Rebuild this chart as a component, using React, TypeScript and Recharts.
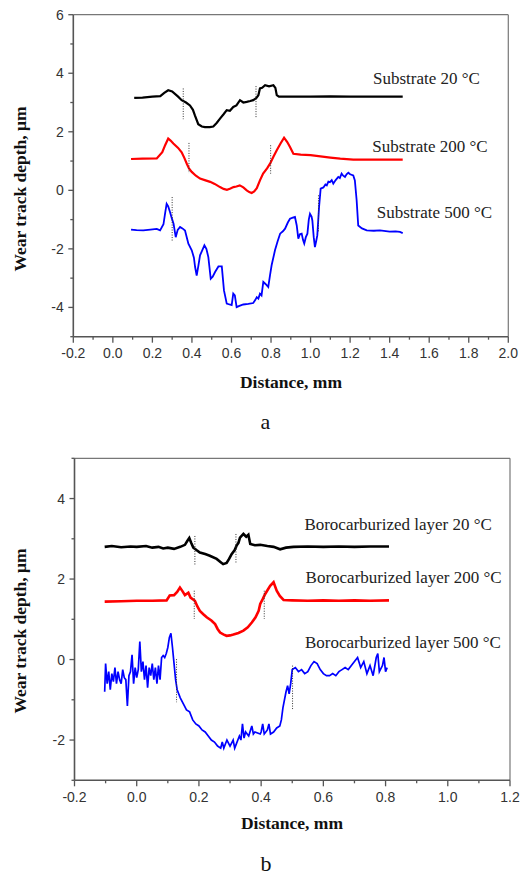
import { LineChart, Line, XAxis, YAxis, ReferenceLine, ReferenceDot } from "recharts";

// ---- panel a: substrate ----
const subXTicks = [-0.2, -0.1, 0, 0.1, 0.2, 0.3, 0.4, 0.5, 0.6, 0.7, 0.8, 0.9, 1.0, 1.1, 1.2, 1.3, 1.4, 1.5, 1.6, 1.7, 1.8, 1.9, 2.0];
const subYTicks = [-5, -4, -3, -2, -1, 0, 1, 2, 3, 4, 5, 6];

const sub20: [number, number][] = [
  [0.108, 3.16], [0.15, 3.17], [0.2, 3.2], [0.24, 3.22], [0.26, 3.33], [0.28, 3.42], [0.3, 3.38], [0.33, 3.2],
  [0.348, 3.08], [0.37, 3.0], [0.39, 2.9], [0.405, 2.75], [0.415, 2.56], [0.432, 2.26], [0.45, 2.18], [0.466, 2.16],
  [0.49, 2.16], [0.508, 2.18], [0.525, 2.3], [0.542, 2.45], [0.56, 2.6], [0.576, 2.74], [0.592, 2.72], [0.609, 2.85],
  [0.625, 2.9], [0.643, 3.08], [0.66, 3.0], [0.677, 3.02], [0.695, 3.05], [0.71, 3.08], [0.725, 3.15], [0.736, 3.25],
  [0.744, 3.48], [0.755, 3.5], [0.77, 3.59], [0.79, 3.55], [0.812, 3.59], [0.822, 3.5], [0.829, 3.25], [0.84, 3.2],
  [0.9, 3.2], [1.0, 3.2], [1.1, 3.21], [1.2, 3.2], [1.3, 3.2], [1.4, 3.2], [1.466, 3.2],
];

const sub200: [number, number][] = [
  [0.092, 1.07], [0.15, 1.08], [0.222, 1.09], [0.25, 1.3], [0.265, 1.55], [0.28, 1.77], [0.292, 1.7], [0.306, 1.6],
  [0.33, 1.45], [0.348, 1.3], [0.362, 1.1], [0.374, 0.91], [0.385, 0.75], [0.399, 0.63], [0.42, 0.5], [0.441, 0.4],
  [0.465, 0.35], [0.492, 0.29], [0.515, 0.22], [0.542, 0.11], [0.56, 0.05], [0.577, 0.02], [0.595, 0.06], [0.61, 0.11],
  [0.625, 0.13], [0.642, 0.17], [0.66, 0.1], [0.677, 0.0], [0.69, -0.06], [0.702, -0.09], [0.715, -0.04], [0.728, 0.07],
  [0.744, 0.34], [0.76, 0.57], [0.78, 0.75], [0.795, 0.91], [0.812, 1.15], [0.829, 1.37], [0.848, 1.6], [0.866, 1.8],
  [0.882, 1.65], [0.896, 1.48], [0.913, 1.25], [0.95, 1.22], [1.0, 1.2], [1.05, 1.16], [1.1, 1.12], [1.15, 1.08],
  [1.216, 1.05], [1.3, 1.05], [1.4, 1.05], [1.466, 1.05],
];

const sub500: [number, number][] = [
  [0.092, -1.34], [0.12, -1.36], [0.154, -1.37], [0.19, -1.34], [0.222, -1.32], [0.239, -1.37], [0.256, -1.16], [0.265, -0.75],
  [0.272, -0.46], [0.28, -0.55], [0.289, -0.74], [0.298, -0.95], [0.307, -1.14], [0.318, -1.6], [0.328, -1.35], [0.34, -1.25],
  [0.352, -1.3], [0.365, -1.37], [0.382, -1.82], [0.399, -2.05], [0.41, -2.3], [0.416, -2.62], [0.424, -2.91], [0.432, -2.6],
  [0.441, -2.22], [0.452, -2.05], [0.463, -1.88], [0.473, -2.0], [0.483, -2.28], [0.495, -3.02], [0.505, -2.95], [0.517, -2.79],
  [0.534, -2.6], [0.551, -2.6], [0.562, -3.42], [0.576, -3.87], [0.59, -3.9], [0.601, -3.92], [0.609, -3.53], [0.617, -3.59],
  [0.626, -3.99], [0.64, -3.95], [0.66, -3.9], [0.685, -3.88], [0.71, -3.85], [0.72, -3.75], [0.728, -3.65], [0.736, -3.7],
  [0.744, -3.53], [0.752, -3.59], [0.761, -3.13], [0.772, -3.2], [0.786, -3.3], [0.795, -2.9], [0.803, -2.56], [0.82, -2.05],
  [0.833, -1.75], [0.846, -1.48], [0.86, -1.4], [0.871, -1.31], [0.885, -1.1], [0.896, -0.97], [0.91, -0.93], [0.921, -0.91],
  [0.93, -1.2], [0.938, -1.65], [0.946, -1.5], [0.955, -1.48], [0.962, -1.7], [0.968, -1.82], [0.976, -1.6], [0.984, -1.48],
  [0.991, -1.0], [0.997, -0.8], [1.005, -0.9], [1.009, -1.03], [1.016, -1.6], [1.022, -1.94], [1.028, -1.75], [1.034, -1.54],
  [1.039, -1.0], [1.043, -0.57], [1.051, 0.06], [1.065, 0.1], [1.075, 0.2], [1.082, 0.17], [1.09, 0.3], [1.098, 0.28],
  [1.107, 0.35], [1.115, 0.23], [1.127, 0.35], [1.14, 0.46], [1.148, 0.42], [1.157, 0.57], [1.165, 0.5], [1.174, 0.46],
  [1.182, 0.55], [1.191, 0.6], [1.2, 0.55], [1.216, 0.51], [1.224, 0.34], [1.233, -0.34], [1.241, -1.2], [1.26, -1.3],
  [1.284, -1.37], [1.32, -1.38], [1.351, -1.37], [1.4, -1.41], [1.43, -1.4], [1.452, -1.42], [1.466, -1.46],
];

// dotted wear-track edges: [x, yTop, yBottom]
const subMarks: [number, number, number][] = [
  [0.356, 3.48, 2.43], [0.724, 3.56, 2.5],
  [0.385, 1.62, 0.59], [0.798, 1.54, 0.57],
  [0.3, -0.23, -1.74], [1.04, -0.17, -1.43],
];

const subLabels: [string, number, number][] = [
  ["Substrate 20 °C", 1.316, 3.85],
  ["Substrate 200 °C", 1.312, 1.51],
  ["Substrate 500 °C", 1.335, -0.74],
];

// ---- panel b: borocarburized layer ----
const borXTicks = [-0.2, -0.1, 0, 0.1, 0.2, 0.3, 0.4, 0.5, 0.6, 0.7, 0.8, 0.9, 1.0, 1.1, 1.2];
const borYTicks = [-3, -2, -1, 0, 1, 2, 3, 4, 5];

const bor20: [number, number][] = [
  [-0.103, 2.8], [-0.08, 2.82], [-0.05, 2.79], [-0.02, 2.81], [0.0, 2.8], [0.03, 2.82], [0.05, 2.78], [0.07, 2.8],
  [0.085, 2.76], [0.1, 2.78], [0.12, 2.75], [0.14, 2.8], [0.155, 2.85], [0.163, 2.95], [0.169, 3.02], [0.175, 2.9],
  [0.182, 2.78], [0.192, 2.72], [0.203, 2.66], [0.22, 2.62], [0.235, 2.58], [0.257, 2.5], [0.27, 2.42], [0.278, 2.37],
  [0.289, 2.4], [0.297, 2.5], [0.305, 2.62], [0.315, 2.72], [0.321, 2.83], [0.327, 2.9], [0.332, 3.03], [0.343, 3.12],
  [0.352, 3.05], [0.359, 3.1], [0.365, 2.87], [0.38, 2.84], [0.397, 2.85], [0.42, 2.82], [0.44, 2.8], [0.461, 2.74],
  [0.48, 2.78], [0.504, 2.8], [0.55, 2.81], [0.6, 2.8], [0.65, 2.81], [0.7, 2.8], [0.75, 2.81], [0.811, 2.81],
];

const bor200: [number, number][] = [
  [-0.103, 1.44], [-0.05, 1.45], [0.0, 1.46], [0.05, 1.46], [0.096, 1.47], [0.106, 1.59], [0.12, 1.6], [0.13, 1.68],
  [0.139, 1.79], [0.147, 1.7], [0.155, 1.6], [0.166, 1.66], [0.173, 1.54], [0.187, 1.46], [0.195, 1.32], [0.203, 1.21],
  [0.215, 1.12], [0.225, 1.05], [0.24, 0.97], [0.252, 0.88], [0.26, 0.76], [0.268, 0.67], [0.28, 0.62], [0.289, 0.59],
  [0.3, 0.6], [0.311, 0.62], [0.327, 0.66], [0.343, 0.72], [0.357, 0.8], [0.37, 0.92], [0.382, 1.05], [0.392, 1.21],
  [0.397, 1.38], [0.405, 1.5], [0.413, 1.63], [0.429, 1.83], [0.44, 1.92], [0.45, 1.71], [0.46, 1.58], [0.472, 1.48],
  [0.5, 1.47], [0.55, 1.46], [0.6, 1.47], [0.65, 1.46], [0.7, 1.47], [0.75, 1.46], [0.811, 1.47],
];

const bor500: [number, number][] = [
  [-0.103, -0.8], [-0.1, -0.1], [-0.095, -0.6], [-0.09, -0.3], [-0.085, -0.75], [-0.08, -0.35], [-0.075, -0.55], [-0.07, -0.2],
  [-0.065, -0.6], [-0.06, -0.3], [-0.055, -0.5], [-0.05, -0.6], [-0.045, -0.25], [-0.04, -0.45], [-0.035, -0.5], [-0.03, -1.15],
  [-0.025, -0.4], [-0.02, -0.3], [-0.015, 0.12], [-0.01, -0.6], [-0.005, -0.2], [0.0, -0.45], [0.005, -0.25], [0.01, 0.45],
  [0.015, -0.3], [0.02, -0.05], [0.025, -0.5], [0.03, -0.15], [0.035, -0.7], [0.04, -0.2], [0.045, -0.4], [0.05, -0.1],
  [0.055, -0.5], [0.06, -0.2], [0.065, -0.6], [0.07, -0.15], [0.075, -0.5], [0.08, 0.05], [0.085, 0.1], [0.09, 0.05],
  [0.095, 0.15], [0.1, 0.3], [0.105, 0.55], [0.11, 0.65], [0.115, 0.3], [0.12, -0.1], [0.125, -0.5], [0.13, -0.75],
  [0.14, -0.95], [0.15, -1.1], [0.16, -1.25], [0.17, -1.3], [0.18, -1.5], [0.19, -1.6], [0.2, -1.65], [0.21, -1.75],
  [0.22, -1.8], [0.23, -1.9], [0.24, -2.0], [0.25, -2.05], [0.26, -2.15], [0.27, -2.2], [0.275, -2.05], [0.28, -2.2],
  [0.29, -2.0], [0.3, -2.15], [0.31, -2.0], [0.315, -2.2], [0.32, -2.1], [0.33, -1.9], [0.335, -2.0], [0.34, -1.6],
  [0.345, -1.95], [0.35, -1.8], [0.36, -1.9], [0.37, -1.65], [0.375, -1.85], [0.38, -1.8], [0.397, -1.85], [0.4, -1.8],
  [0.405, -1.6], [0.41, -1.85], [0.42, -1.75], [0.425, -1.6], [0.43, -1.85], [0.44, -1.8], [0.45, -1.7], [0.46, -1.65],
  [0.465, -1.5], [0.47, -1.2], [0.48, -0.8], [0.485, -0.65], [0.49, -0.85], [0.495, -0.6], [0.5, -0.25], [0.51, -0.2],
  [0.52, -0.3], [0.53, -0.25], [0.54, -0.35], [0.55, -0.3], [0.56, -0.15], [0.57, -0.05], [0.58, -0.1], [0.59, -0.25],
  [0.6, -0.35], [0.61, -0.4], [0.62, -0.4], [0.63, -0.35], [0.64, -0.4], [0.65, -0.3], [0.66, -0.25], [0.67, -0.2],
  [0.68, -0.25], [0.69, -0.15], [0.7, -0.05], [0.71, 0.05], [0.72, -0.2], [0.73, -0.05], [0.74, -0.35], [0.75, -0.15],
  [0.76, -0.4], [0.77, 0.05], [0.775, 0.15], [0.78, -0.3], [0.79, -0.15], [0.795, 0.05], [0.8, -0.3], [0.805, -0.2],
];

const borMarks: [number, number, number][] = [
  [0.187, 3.07, 2.35], [0.319, 3.12, 2.39],
  [0.185, 1.71, 1.01], [0.41, 1.71, 1.01],
  [0.128, 0.01, -1.06], [0.501, -0.15, -1.23],
];

const borLabels: [string, number, number][] = [
  ["Borocarburized layer 20 °C", 0.539, 3.36],
  ["Borocarburized layer 200 °C", 0.543, 2.04],
  ["Borocarburized layer 500 °C", 0.541, 0.43],
];

const toPts = (arr: [number, number][]) => arr.map(([x, y]) => ({ x, y }));

const SANS = "'Liberation Sans', Arial, sans-serif";
const SERIF = "'Liberation Serif', 'Times New Roman', serif";
const AXIS = "#555";

const XTick = (props: any) => {
  const { x, y, payload } = props;
  const v = payload.value as number;
  const major = Math.abs(Math.round(v * 10)) % 2 === 0;
  return (
    <g>
      <line x1={x} x2={x} y1={y} y2={y + (major ? 6 : 3)} stroke={AXIS} strokeWidth={1.3} />
      {major && (
        <text x={x} y={y + 21.5} textAnchor="middle" fontFamily={SANS} fontSize={14} fill="#333">
          {v.toFixed(1)}
        </text>
      )}
    </g>
  );
};

const YTick = (props: any) => {
  const { x, y, payload } = props;
  const v = Math.round(payload.value as number);
  const major = Math.abs(v) % 2 === 0;
  return (
    <g>
      <line x1={x} x2={x - (major ? 5 : 3)} y1={y} y2={y} stroke={AXIS} strokeWidth={1.3} />
      {major && (
        <text x={x - 9.5} y={y + 5} textAnchor="end" fontFamily={SANS} fontSize={14} fill="#333">
          {v}
        </text>
      )}
    </g>
  );
};

type PanelProps = {
  height: number;
  margin: { top: number; right: number; left: number; bottom: number };
  yAxisWidth: number;
  xDomain: [number, number];
  yDomain: [number, number];
  xTicks: number[];
  yTicks: number[];
  series: { data: [number, number][]; color: string; width: number }[];
  marks: [number, number, number][];
  labels: [string, number, number][];
};

const Panel = ({ height, margin, yAxisWidth, xDomain, yDomain, xTicks, yTicks, series, marks, labels }: PanelProps) => (
  <LineChart width={520} height={height} margin={margin}>
    <XAxis
      type="number"
      dataKey="x"
      domain={xDomain}
      ticks={xTicks}
      interval={0}
      allowDataOverflow
      tickSize={0}
      tickMargin={0}
      tickLine={false}
      tick={<XTick />}
      height={30}
      axisLine={{ stroke: AXIS, strokeWidth: 1.6 }}
    />
    <YAxis
      type="number"
      dataKey="y"
      domain={yDomain}
      ticks={yTicks}
      interval={0}
      allowDataOverflow
      tickSize={0}
      tickMargin={0}
      tickLine={false}
      tick={<YTick />}
      width={yAxisWidth}
      axisLine={{ stroke: AXIS, strokeWidth: 1.6 }}
    />
    <ReferenceLine y={yDomain[1]} stroke="#777" strokeWidth={1.2} />
    <ReferenceLine x={xDomain[1]} stroke="#777" strokeWidth={1.2} />
    {series.map((s, i) => (
      <Line
        key={i}
        data={toPts(s.data)}
        dataKey="y"
        type="linear"
        stroke={s.color}
        strokeWidth={s.width}
        dot={false}
        isAnimationActive={false}
      />
    ))}
    {marks.map(([x, y1, y2], i) => (
      <ReferenceLine
        key={`m${i}`}
        segment={[{ x, y: y1 }, { x, y: y2 }]}
        stroke="#333"
        strokeWidth={1}
        strokeDasharray="1 1.5"
      />
    ))}
    {labels.map(([text, x, y], i) => (
      <ReferenceDot
        key={`l${i}`}
        x={x}
        y={y}
        r={0}
        fill="none"
        stroke="none"
        label={{ value: text, position: "right", offset: 0, fontFamily: SERIF, fontSize: 17, fill: "#222" }}
      />
    ))}
  </LineChart>
);

const titleStyle = {
  position: "absolute" as const,
  fontFamily: SERIF,
  fontWeight: "bold" as const,
  fontSize: 17.5,
  color: "#111",
  whiteSpace: "nowrap" as const,
};

export default function App() {
  return (
    <div style={{ position: "absolute", left: 0, top: 0, width: 520, height: 879, background: "#fff" }}>
      <div style={{ position: "absolute", left: 0, top: 0 }}>
        <Panel
          height={366.7}
          margin={{ top: 14.7, right: 11.7, left: 0, bottom: 0 }}
          yAxisWidth={73.3}
          xDomain={[-0.2, 2.0]}
          yDomain={[-5, 6]}
          xTicks={subXTicks}
          yTicks={subYTicks}
          series={[
            { data: sub20, color: "#000000", width: 2.2 },
            { data: sub200, color: "#ff0000", width: 2.2 },
            { data: sub500, color: "#0000ff", width: 1.8 },
          ]}
          marks={subMarks}
          labels={subLabels}
        />
      </div>
      <div style={{ position: "absolute", left: 0, top: 440 }}>
        <Panel
          height={370.3}
          margin={{ top: 18.3, right: 10, left: 0, bottom: 0 }}
          yAxisWidth={74.5}
          xDomain={[-0.2, 1.2]}
          yDomain={[-3, 5]}
          xTicks={borXTicks}
          yTicks={borYTicks}
          series={[
            { data: bor20, color: "#000000", width: 2.6 },
            { data: bor200, color: "#ff0000", width: 2.6 },
            { data: bor500, color: "#0000ff", width: 1.7 },
          ]}
          marks={borMarks}
          labels={borLabels}
        />
      </div>

      <div style={{ ...titleStyle, left: 20, top: 189, transform: "translate(-50%, -50%) rotate(-90deg)" }}>
        Wear track depth, μm
      </div>
      <div style={{ ...titleStyle, left: 291, top: 381.5, transform: "translate(-50%, -50%)" }}>Distance, mm</div>
      <div style={{ position: "absolute", left: 265.5, top: 422, transform: "translate(-50%, -50%)", fontFamily: SERIF, fontSize: 22, color: "#111" }}>
        a
      </div>

      <div style={{ ...titleStyle, left: 20, top: 630.5, transform: "translate(-50%, -50%) rotate(-90deg)" }}>
        Wear track depth, μm
      </div>
      <div style={{ ...titleStyle, left: 292, top: 823, transform: "translate(-50%, -50%)" }}>Distance, mm</div>
      <div style={{ position: "absolute", left: 266, top: 864, transform: "translate(-50%, -50%)", fontFamily: SERIF, fontSize: 22, color: "#111" }}>
        b
      </div>
    </div>
  );
}
